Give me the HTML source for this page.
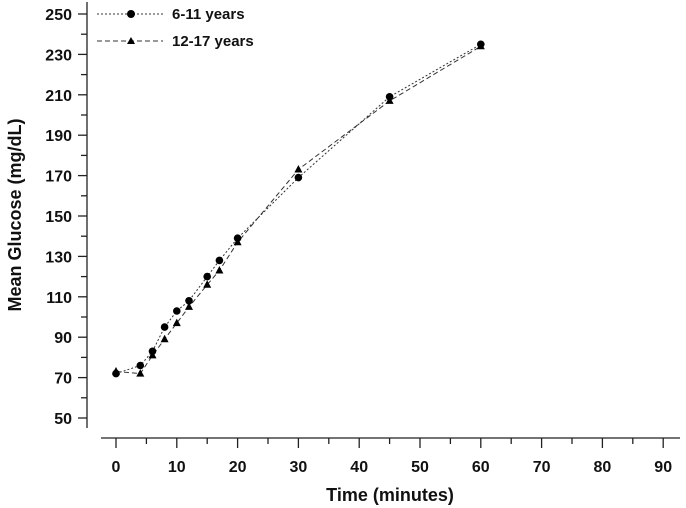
<!DOCTYPE html>
<html><head><style>body{margin:0;background:#fff}svg{display:block}text{font-family:"Liberation Sans",Arial,sans-serif;font-weight:bold;fill:#111}</style></head>
<body>
<svg width="686" height="508" viewBox="0 0 686 508" xmlns="http://www.w3.org/2000/svg">
<g stroke="#222" stroke-width="1.3" fill="none">
<line x1="87" y1="2" x2="87" y2="428"/>
<line x1="101" y1="438" x2="680" y2="438"/>
</g>
<g id="yt" stroke="#222" stroke-width="1.3"></g>
<g id="xt" stroke="#222" stroke-width="1.3"></g>
<g id="yl" font-size="16" text-anchor="end"></g>
<g id="xl" font-size="16" text-anchor="middle"></g>
<text x="21" y="215" font-size="18" text-anchor="middle" transform="rotate(-90 21 215)">Mean Glucose (mg/dL)</text>
<text x="390" y="501" font-size="18" text-anchor="middle">Time (minutes)</text>
<polyline fill="none" stroke="#333" stroke-width="1" stroke-dasharray="2,2" points="116,373.6 140.3,365.5 152.5,351.3 164.6,327.1 176.8,311 189,300.8 207.2,276.6 219.4,260.4 237.6,238.2 298.4,177.6 389.6,96.8 480.8,44.3"/>
<polyline fill="none" stroke="#333" stroke-width="1" stroke-dasharray="5,3" points="116,371.5 140.3,373.6 152.5,355.4 164.6,339.2 176.8,323.1 189,306.9 207.2,284.7 219.4,270.5 237.6,242.3 298.4,169.5 389.6,100.9 480.8,46.3"/>
<g fill="#000" id="c"></g>
<g fill="#000" id="t"></g>
<line x1="97" y1="14" x2="163" y2="14" stroke="#333" stroke-dasharray="2,2"/>
<circle cx="131" cy="14" r="4" fill="#000"/>
<line x1="97" y1="41" x2="163" y2="41" stroke="#333" stroke-dasharray="5,3"/>
<polygon points="131,37 135,44 127,44" fill="#000"/>
<text x="172" y="19" font-size="15">6-11 years</text>
<text x="172" y="46" font-size="15">12-17 years</text>
</svg>
<script>
var ns="http://www.w3.org/2000/svg";
function el(p,t,a,tx){var e=document.createElementNS(ns,t);for(var k in a)e.setAttribute(k,a[k]);if(tx)e.textContent=tx;document.getElementById(p).appendChild(e);}
for(var v=50;v<=250;v+=10){var y=14+(250-v)*2.02;var maj=v%20==10;el("yt","line",{x1:maj?78:81,y1:y,x2:87,y2:y});if(maj)el("yl","text",{x:72,y:y+6},String(v));}
for(var t=0;t<=90;t+=5){var x=116+t*6.08;var maj=t%10==0;el("xt","line",{x1:x,y1:438,x2:x,y2:maj?448:444});if(maj)el("xl","text",{x:x,y:472},String(t));}
var a=[[116,373.6],[140.3,365.5],[152.5,351.3],[164.6,327.1],[176.8,311],[189,300.8],[207.2,276.6],[219.4,260.4],[237.6,238.2],[298.4,177.6],[389.6,96.8],[480.8,44.3]];
var b=[[116,371.5],[140.3,373.6],[152.5,355.4],[164.6,339.2],[176.8,323.1],[189,306.9],[207.2,284.7],[219.4,270.5],[237.6,242.3],[298.4,169.5],[389.6,100.9],[480.8,46.3]];
b.forEach(function(p){el("t","polygon",{points:p[0]+","+(p[1]-4.5)+" "+(p[0]+4)+","+(p[1]+3)+" "+(p[0]-4)+","+(p[1]+3)});});
a.forEach(function(p){el("c","circle",{cx:p[0],cy:p[1],r:3.8});});
</script>
</body></html>
